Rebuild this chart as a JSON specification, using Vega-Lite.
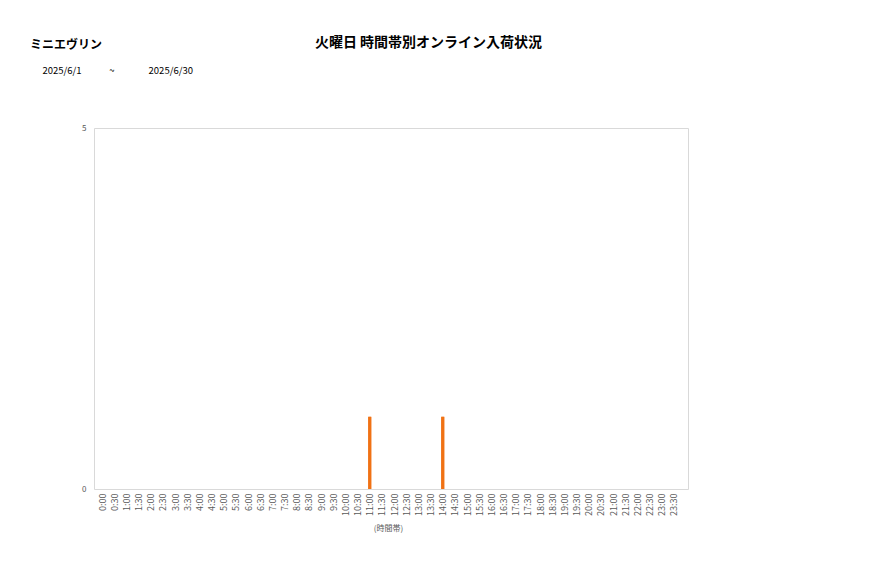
{
  "$schema": "https://vega.github.io/schema/vega-lite/v6.json",
  "autosize": "none",
  "width": 594,
  "height": 361,
  "padding": {"left": 94, "top": 128, "right": 189, "bottom": 89},
  "background": "white",
  "title": {
    "text": "ミニエヴリン",
    "anchor": "start",
    "frame": "group",
    "font": "Noto Sans CJK JP",
    "fontSize": 12,
    "fontWeight": "bold",
    "color": "#000000",
    "dx": -64,
    "offset": -17
  },
  "data": {
    "values": [
      {"time": "0:00", "count": 0}, {"time": "0:30", "count": 0},
      {"time": "1:00", "count": 0}, {"time": "1:30", "count": 0},
      {"time": "2:00", "count": 0}, {"time": "2:30", "count": 0},
      {"time": "3:00", "count": 0}, {"time": "3:30", "count": 0},
      {"time": "4:00", "count": 0}, {"time": "4:30", "count": 0},
      {"time": "5:00", "count": 0}, {"time": "5:30", "count": 0},
      {"time": "6:00", "count": 0}, {"time": "6:30", "count": 0},
      {"time": "7:00", "count": 0}, {"time": "7:30", "count": 0},
      {"time": "8:00", "count": 0}, {"time": "8:30", "count": 0},
      {"time": "9:00", "count": 0}, {"time": "9:30", "count": 0},
      {"time": "10:00", "count": 0}, {"time": "10:30", "count": 0},
      {"time": "11:00", "count": 1}, {"time": "11:30", "count": 0},
      {"time": "12:00", "count": 0}, {"time": "12:30", "count": 0},
      {"time": "13:00", "count": 0}, {"time": "13:30", "count": 0},
      {"time": "14:00", "count": 1}, {"time": "14:30", "count": 0},
      {"time": "15:00", "count": 0}, {"time": "15:30", "count": 0},
      {"time": "16:00", "count": 0}, {"time": "16:30", "count": 0},
      {"time": "17:00", "count": 0}, {"time": "17:30", "count": 0},
      {"time": "18:00", "count": 0}, {"time": "18:30", "count": 0},
      {"time": "19:00", "count": 0}, {"time": "19:30", "count": 0},
      {"time": "20:00", "count": 0}, {"time": "20:30", "count": 0},
      {"time": "21:00", "count": 0}, {"time": "21:30", "count": 0},
      {"time": "22:00", "count": 0}, {"time": "22:30", "count": 0},
      {"time": "23:00", "count": 0}, {"time": "23:30", "count": 0}
    ]
  },
  "encoding": {
    "x": {
      "field": "time",
      "type": "ordinal",
      "sort": null,
      "scale": {"type": "point", "range": [2, 586]},
      "axis": {
        "title": "(時間帯)",
        "titleFont": "Noto Sans CJK JP",
        "titleFontSize": 8,
        "titleFontWeight": "normal",
        "titleColor": "#595959",
        "titlePadding": 9,
        "labelAngle": -90,
        "labelFont": "Noto Sans CJK JP",
        "labelFontSize": 9,
        "labelColor": "#595959",
        "labelPadding": 4,
        "ticks": false,
        "domain": false,
        "grid": false
      }
    }
  },
  "layer": [
    {
      "mark": {"type": "bar", "width": 3, "color": "#f07214"},
      "encoding": {
        "y": {
          "field": "count",
          "type": "quantitative",
          "scale": {"domain": [0, 5]},
          "axis": {
            "title": "火曜日 時間帯別オンライン入荷状況",
            "titleAngle": 0,
            "titleX": 334,
            "titleY": -82,
            "titleAlign": "center",
            "titleBaseline": "alphabetic",
            "titleFont": "Noto Sans CJK JP",
            "titleFontSize": 14,
            "titleFontWeight": "bold",
            "titleColor": "#000000",
            "values": [0, 5],
            "labelFont": "Noto Sans CJK JP",
            "labelFontSize": 8,
            "labelColor": "#595959",
            "labelPadding": 8,
            "ticks": false,
            "domain": false,
            "grid": false
          }
        }
      }
    },
    {
      "mark": {"type": "bar", "width": 3, "color": "#f07214"},
      "encoding": {
        "y": {
          "field": "count",
          "type": "quantitative",
          "scale": {"domain": [0, 5]},
          "axis": {
            "orient": "right",
            "title": "2025/6/1\u00a0\u00a0\u00a0\u00a0\u00a0\u00a0\u00a0\u00a0\u00a0\u00a0\u00a0\u00a0\u00a0~\u00a0\u00a0\u00a0\u00a0\u00a0\u00a0\u00a0\u00a0\u00a0\u00a0\u00a0\u00a0\u00a0\u00a0\u00a0\u00a02025/6/30",
            "titleAngle": 0,
            "titleX": -646,
            "titleY": -55,
            "titleAlign": "left",
            "titleBaseline": "alphabetic",
            "titleFont": "Noto Sans CJK JP",
            "titleFontSize": 9.5,
            "titleFontWeight": "normal",
            "titleColor": "#000000",
            "labels": false,
            "ticks": false,
            "domain": false,
            "grid": false
          }
        }
      }
    }
  ],
  "resolve": {"axis": {"y": "independent"}},
  "config": {
    "view": {"stroke": "#d9d9d9", "strokeWidth": 1}
  }
}
